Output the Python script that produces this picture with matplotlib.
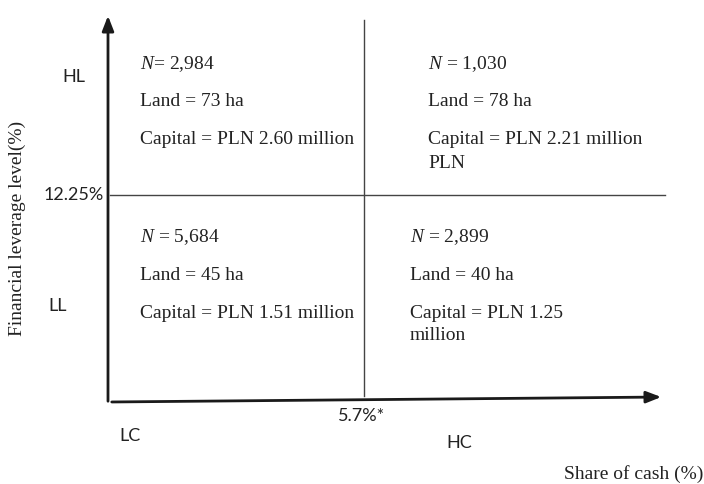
import matplotlib
matplotlib.use('Agg')
import matplotlib.pyplot as plt

# Dane do diagramu
n_values = ['2,984', '1,030', '5,684', '2,899']
n_sep = ['= ', ' = ', ' = ', ' = ']
land_ha = [73, 78, 45, 40]
capital_lines = [
    ['Capital = PLN 2.60 million'],
    ['Capital = PLN 2.21 million', 'PLN'],
    ['Capital = PLN 1.51 million'],
    ['Capital = PLN 1.25', 'million'],
]
lev_threshold = '12.25%'
cash_threshold = '5.7%*'
lev_labels = ['HL', 'LL']
cash_labels = ['LC', 'HC']

serif = 'Liberation Serif'
sans = 'Lato'
plt.rcParams['mathtext.fontset'] = 'custom'
plt.rcParams['mathtext.rm'] = serif
plt.rcParams['mathtext.it'] = serif + ':italic'

fig = plt.figure(figsize=(7.04, 4.84), dpi=100)
ax = fig.add_axes([0, 0, 1, 1])
ax.set_xlim(0, 704)
ax.set_ylim(484, 0)
ax.axis('off')

# osie ze strzalkami
ax.annotate('', xy=(108, 13), xytext=(108, 404),
            arrowprops=dict(arrowstyle='-|>,head_width=0.35,head_length=0.9', color='#1a1a1a', lw=2))
ax.annotate('', xy=(664, 397), xytext=(109, 402),
            arrowprops=dict(arrowstyle='-|>,head_width=0.35,head_length=0.9', color='#1a1a1a', lw=2))

# linie podzialu
ax.plot([364, 364], [20, 396], color='#444444', lw=1)
ax.plot([110, 665], [195, 195], color='#444444', lw=1)

# kwadranty
pos = [(140, 64), (428, 64), (140, 237), (410, 237)]
for i, (x, y) in enumerate(pos):
    ax.text(x, y, r'$\it{N}$' + n_sep[i] + n_values[i], fontsize=14, family=serif,
            va='center', ha='left', color='#222222')
    ax.text(x, y + 38, f'Land = {land_ha[i]} ha', fontsize=14, family=serif,
            va='center', ha='left', color='#222222')
    for j, line in enumerate(capital_lines[i]):
        ax.text(x, y + 76 + 23 * j, line, fontsize=14, family=serif,
                va='center', ha='left', color='#222222')

# etykiety progow i grup
ax.text(104, 195, lev_threshold, fontsize=13, family=sans, va='center', ha='right', color='#222222')
ax.text(362, 416, cash_threshold, fontsize=13, family=sans, va='center', ha='center', color='#222222')
ax.text(74, 77, lev_labels[0], fontsize=13, family=sans, va='center', ha='center', color='#222222')
ax.text(58, 306, lev_labels[1], fontsize=13, family=sans, va='center', ha='center', color='#222222')
ax.text(130, 436, cash_labels[0], fontsize=13, family=sans, va='center', ha='center', color='#222222')
ax.text(459, 443, cash_labels[1], fontsize=13, family=sans, va='center', ha='center', color='#222222')

ax.text(17, 228, 'Financial leverage level(%)', fontsize=14, family=serif,
        rotation=90, va='center', ha='center', color='#222222')
ax.text(703, 474, 'Share of cash (%)', fontsize=14, family=serif, va='center', ha='right',
        color='#222222')

fig.savefig('out.png', dpi=100)
